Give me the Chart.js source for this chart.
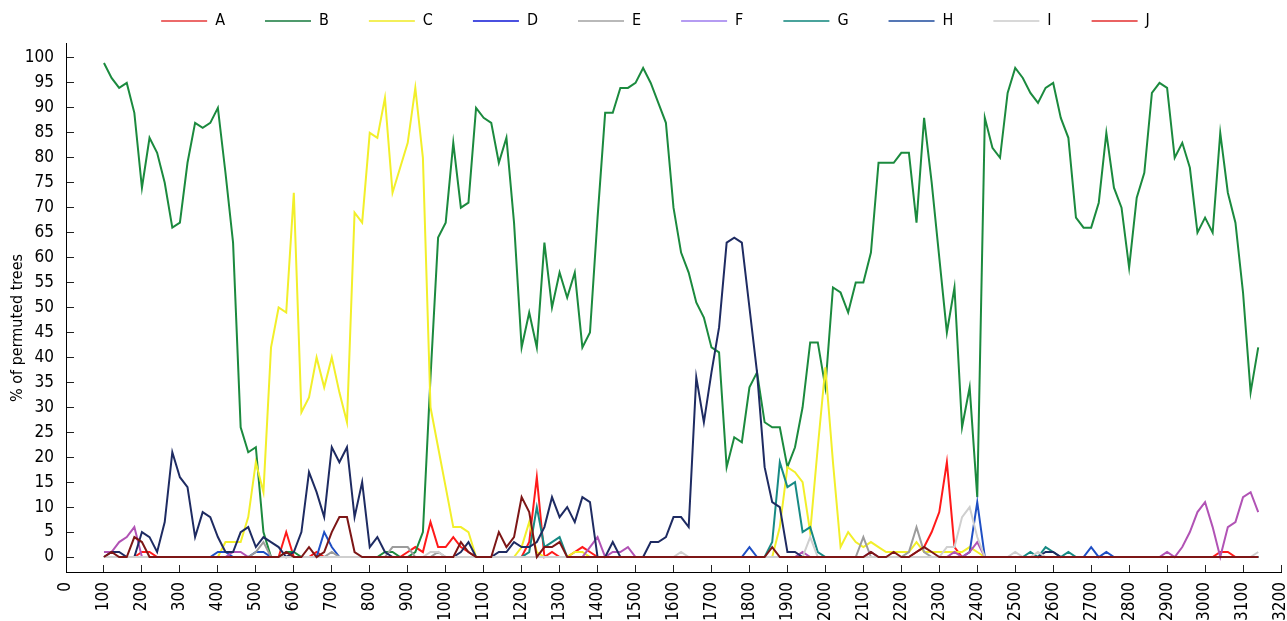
<!DOCTYPE html>
<html>
<head>
<meta charset="utf-8">
<script src="https://cdn.jsdelivr.net/npm/chart.js@4.4.1/dist/chart.umd.min.js"></script>
<style>
  html, body { margin: 0; padding: 0; background: #fff; }
  canvas { display: block; }
</style>
</head>
<body>
<canvas id="chart" width="1287" height="621"></canvas>
<script>
// sequence positions (x) of each window
const xs = [
  100,120,140,160,180,200,220,240,260,280,
  300,320,340,360,380,400,420,440,460,480,
  500,520,540,560,580,600,620,640,660,680,
  700,720,740,760,780,800,820,840,860,880,
  900,920,940,960,980,1000,1020,1040,1060,1080,
  1100,1120,1140,1160,1180,1200,1220,1240,1260,1280,
  1300,1320,1340,1360,1380,1400,1420,1440,1460,1480,
  1500,1520,1540,1560,1580,1600,1620,1640,1660,1680,
  1700,1720,1740,1760,1780,1800,1820,1840,1860,1880,
  1900,1920,1940,1960,1980,2000,2020,2040,2060,2080,
  2100,2120,2140,2160,2180,2200,2220,2240,2260,2280,
  2300,2320,2340,2360,2380,2400,2420,2440,2460,2480,
  2500,2520,2540,2560,2580,2600,2620,2640,2660,2680,
  2700,2720,2740,2760,2780,2800,2820,2840,2860,2880,
  2900,2920,2940,2960,2980,3000,3020,3040,3060,3080,
  3100,3120,3140
];

const seriesNames = ['A', 'B', 'C', 'D', 'E', 'F', 'G', 'H', 'I', 'J'];

const dataA = [
  0,0,0,0,0,1,1,0,0,0,  0,0,0,0,0,0,0,0,0,0,
  0,0,0,0,5,0,0,0,1,0,  0,0,0,0,0,0,0,0,0,0,
  1,2,1,7,2,2,4,2,1,0,  0,0,0,0,0,0,3,16,0,1,
  0,0,1,2,1,0,0,0,0,0,  0,0,0,0,0,0,0,0,0,0,
  0,0,0,0,0,0,0,0,0,0,  0,0,0,0,0,0,0,0,0,0,
  0,0,0,0,0,0,0,1,2,5,  9,19,2,0,0,0,0,0,0,0,
  0,0,0,0,0,0,0,0,0,0,  0,0,0,0,0,0,0,0,0,0,
  0,0,0,0,0,0,0,1,1,0,  0,0,0
];
const dataB = [
  99,96,94,95,89,74,84,81,75,66,  67,79,87,86,87,90,77,63,26,21,
  22,5,0,0,1,1,0,0,0,0,  0,0,0,0,0,0,0,1,1,0,
  0,1,5,36,64,67,83,70,71,90,  88,87,79,84,67,42,49,42,63,50,
  57,52,57,42,45,68,89,89,94,94,  95,98,95,91,87,70,61,57,51,48,
  42,41,18,24,23,34,37,27,26,26,  18,22,30,43,43,34,54,53,49,55,
  55,61,79,79,79,81,81,67,88,75,  60,45,54,26,34,12,88,82,80,93,
  98,96,93,91,94,95,88,84,68,66,  66,71,85,74,70,58,72,77,93,95,
  94,80,83,78,65,68,65,85,73,67,  53,33,42
];
const dataC = [
  0,0,0,0,0,0,0,0,0,0,  0,0,0,0,0,0,3,3,3,8,
  19,13,42,50,49,73,29,32,40,34,  40,33,27,69,67,85,84,92,73,78,
  83,94,80,30,22,14,6,6,5,0,  0,0,0,0,0,2,7,1,0,0,
  0,0,1,1,0,0,0,0,0,0,  0,0,0,0,0,0,0,0,0,0,
  0,0,0,0,0,0,0,0,0,6,  18,17,15,5,22,38,19,2,5,3,
  2,3,2,1,1,1,1,3,1,1,  1,1,1,1,2,1,0,0,0,0,
  0,0,0,0,0,0,0,0,0,0,  0,0,0,0,0,0,0,0,0,0,
  0,0,0,0,0,0,0,0,0,0,  0,0,0
];
const dataD = [
  0,0,0,0,0,0,0,0,0,0,  0,0,0,0,0,1,1,0,0,0,
  1,1,0,0,0,0,0,0,0,5,  2,0,0,0,0,0,0,0,0,0,
  0,0,0,0,0,0,0,0,0,0,  0,0,0,0,0,0,0,0,0,0,
  0,0,0,0,0,0,0,0,0,0,  0,0,0,0,0,0,0,0,0,0,
  0,0,0,0,0,2,0,0,0,0,  0,0,0,0,0,0,0,0,0,0,
  0,0,0,0,0,0,0,0,0,0,  0,0,0,0,1,11,0,0,0,0,
  0,0,0,0,0,0,0,0,0,0,  2,0,1,0,0,0,0,0,0,0,
  0,0,0,0,0,0,0,0,0,0,  0,0,0
];
const dataE = [
  0,0,0,0,0,0,0,0,0,0,  0,0,0,0,0,0,0,0,0,0,
  1,3,0,0,0,0,0,0,0,0,  1,0,0,0,0,0,0,0,2,2,
  2,0,0,0,1,0,0,0,0,0,  0,0,0,0,0,0,0,0,0,0,
  0,0,0,0,0,0,0,0,0,0,  0,0,0,0,0,0,0,0,0,0,
  0,0,0,0,0,0,0,0,0,0,  0,0,0,0,0,0,0,0,0,0,
  4,0,0,0,0,0,1,6,1,0,  0,0,0,0,0,0,0,0,0,0,
  0,0,0,0,0,0,0,0,0,0,  0,0,0,0,0,0,0,0,0,0,
  0,0,0,0,0,0,0,0,0,0,  0,0,0
];
const dataF = [
  1,1,3,4,6,0,0,0,0,0,  0,0,0,0,0,0,0,1,1,0,
  0,0,0,0,0,0,0,0,0,0,  0,0,0,0,0,0,0,0,0,0,
  0,0,0,0,0,0,0,0,0,0,  0,0,0,0,0,0,0,0,0,0,
  0,0,0,0,2,4,0,1,1,2,  0,0,0,0,0,0,0,0,0,0,
  0,0,0,0,0,0,0,0,0,0,  0,0,1,0,0,0,0,0,0,0,
  0,1,0,0,0,0,0,0,0,0,  0,0,1,0,1,3,0,0,0,0,
  0,0,0,0,0,0,0,0,0,0,  0,0,0,0,0,0,0,0,0,0,
  1,0,2,5,9,11,6,0,6,7,  12,13,9
];
const dataG = [
  0,0,0,0,0,0,0,0,0,0,  0,0,0,0,0,0,0,0,0,0,
  0,0,0,0,0,0,0,0,0,0,  0,0,0,0,0,0,0,0,0,0,
  0,0,0,0,0,0,0,0,0,0,  0,0,0,0,0,0,1,10,2,3,
  4,0,0,0,0,0,0,0,0,0,  0,0,0,0,0,0,0,0,0,0,
  0,0,0,0,0,0,0,0,3,19,  14,15,5,6,1,0,0,0,0,0,
  0,0,0,0,0,0,0,0,0,0,  0,0,0,0,0,0,0,0,0,0,
  0,0,1,0,2,1,0,1,0,0,  0,0,0,0,0,0,0,0,0,0,
  0,0,0,0,0,0,0,0,0,0,  0,0,0
];
const dataH = [
  0,1,1,0,0,5,4,1,7,21,  16,14,4,9,8,4,1,1,5,6,
  2,4,3,2,0,1,5,17,13,8,  22,19,22,8,15,2,4,1,0,0,
  0,0,0,0,0,0,0,1,3,0,  0,0,1,1,3,2,2,3,6,12,
  8,10,7,12,11,0,0,3,0,0,  0,0,3,3,4,8,8,6,36,27,
  37,46,63,64,63,50,37,18,11,10,  1,1,0,0,0,0,0,0,0,0,
  0,0,0,0,0,0,0,0,0,0,  0,0,0,0,0,0,0,0,0,0,
  0,0,0,0,1,1,0,0,0,0,  0,0,0,0,0,0,0,0,0,0,
  0,0,0,0,0,0,0,0,0,0,  0,0,0
];
const dataI = [
  0,0,0,0,0,0,0,0,0,0,  0,0,0,0,0,0,0,0,0,0,
  0,0,0,0,0,0,0,0,0,0,  0,0,0,0,0,0,0,0,0,0,
  0,0,0,1,1,0,0,0,0,0,  0,0,0,0,0,0,0,0,0,0,
  0,0,0,0,0,0,0,0,0,0,  0,0,0,0,0,0,1,0,0,0,
  0,0,0,0,0,0,0,0,0,0,  0,0,0,4,0,0,0,0,0,0,
  0,0,0,0,0,0,0,0,0,0,  0,2,2,8,10,4,0,0,0,0,
  1,0,0,1,0,0,0,0,0,0,  0,0,0,0,0,0,0,0,0,0,
  0,0,0,0,0,0,0,0,0,0,  0,0,1
];
const dataJ = [
  0,1,0,0,4,3,0,0,0,0,  0,0,0,0,0,0,0,0,0,0,
  0,0,0,0,1,0,0,2,0,1,  5,8,8,1,0,0,0,0,0,0,
  0,0,0,0,0,0,0,3,1,0,  0,0,5,2,4,12,9,0,2,2,
  3,0,0,0,0,0,0,0,0,0,  0,0,0,0,0,0,0,0,0,0,
  0,0,0,0,0,0,0,0,2,0,  0,0,0,0,0,0,0,0,0,0,
  0,1,0,0,1,0,0,1,2,1,  0,0,0,0,0,0,0,0,0,0,
  0,0,0,0,0,0,0,0,0,0,  0,0,0,0,0,0,0,0,0,0,
  0,0,0,0,0,0,0,0,0,0,  0,0,0
];

const xTicks = [0,100,200,300,400,500,600,700,800,900,1000,1100,1200,1300,1400,1500,
  1600,1700,1800,1900,2000,2100,2200,2300,2400,2500,2600,2700,2800,2900,3000,3100,3200];
const yTicks = [0,5,10,15,20,25,30,35,40,45,50,55,60,65,70,75,80,85,90,95,100];
const yTitle = '% of permuted trees';

const allSeries = [dataA, dataB, dataC, dataD, dataE, dataF, dataG, dataH, dataI, dataJ];
const lineColors = ['#ff1a1a', '#1b8a3e', '#f2ef2a', '#1f4fc4', '#9c9c9c',
  '#b153b5', '#178a84', '#1e2b62', '#cfcfcf', '#7d1616'];
const legendColors = ['#ec6a6a', '#4f9a6c', '#f3ef5a', '#4a50e0', '#b9b9b9',
  '#b59cf2', '#4aa39c', '#5577b5', '#d8d8d8', '#ea6262'];

const FONT = "'DejaVu Sans Condensed', 'DejaVu Sans', sans-serif";

// legend needs a bit more room under it than chart.js gives
const legendSpacer = {
  id: 'legendSpacer',
  beforeLayout(chart) {
    const lg = chart.legend;
    if (lg && !lg._spaced) {
      const fit = lg.fit;
      lg.fit = function () { fit.call(this); this.height += 4; };
      lg._spaced = true;
    }
  }
};

// y title sits a little below the axis centre in the original
const yTitlePlugin = {
  id: 'yTitle',
  afterDraw(chart) {
    const ctx = chart.ctx;
    ctx.save();
    ctx.translate(18, 328);
    ctx.rotate(-Math.PI / 2);
    ctx.font = '16px ' + FONT;
    ctx.fillStyle = '#000';
    ctx.textAlign = 'center';
    ctx.textBaseline = 'middle';
    ctx.fillText(yTitle, 0, 0);
    ctx.restore();
  }
};

const datasets = allSeries.map((vals, k) => ({
  label: seriesNames[k],
  data: xs.map((x, n) => ({ x: x, y: vals[n] })),
  borderColor: lineColors[k],
  backgroundColor: lineColors[k],
  borderWidth: 2,
  pointRadius: 0,
  tension: 0,
  fill: false,
  order: seriesNames.length - 1 - k
}));

new Chart(document.getElementById('chart').getContext('2d'), {
  type: 'line',
  data: { datasets: datasets },
  plugins: [legendSpacer, yTitlePlugin],
  options: {
    responsive: false,
    animation: false,
    devicePixelRatio: 1,
    layout: { padding: { top: -27, left: 24, right: 0, bottom: 0 } },
    plugins: {
      tooltip: { enabled: false },
      legend: {
        position: 'top',
        labels: {
          color: '#000',
          font: { family: FONT, size: 16 },
          boxWidth: 46,
          boxHeight: 2,
          padding: 40,
          generateLabels: (chart) => chart.data.datasets.map((ds, k) => ({
            text: ds.label,
            fillStyle: legendColors[k],
            strokeStyle: legendColors[k],
            lineWidth: 0,
            hidden: false,
            datasetIndex: k
          }))
        }
      }
    },
    scales: {
      x: {
        type: 'linear',
        min: 0,
        max: 3200,
        afterBuildTicks: (s) => { s.ticks = xTicks.map(v => ({ value: v })); },
        afterFit: (s) => { s.height = 49; s.paddingLeft = 0; s.paddingRight = 6; },
        ticks: {
          autoSkip: false,
          minRotation: 90,
          maxRotation: 90,
          padding: 17,
          color: '#000',
          font: { family: FONT, size: 17 },
          callback: (v) => String(v)
        },
        grid: { drawOnChartArea: false, drawTicks: true, tickLength: -7, tickColor: '#222' },
        border: { display: true, color: '#000', width: 1 }
      },
      y: {
        type: 'linear',
        min: -3,
        max: 103,
        afterBuildTicks: (s) => { s.ticks = yTicks.map(v => ({ value: v })); },
        afterFit: (s) => { s.width = 42; },
        ticks: {
          autoSkip: false,
          padding: 20,
          color: '#000',
          font: { family: FONT, size: 17 },
          callback: (v) => String(v)
        },
        grid: { drawOnChartArea: false, drawTicks: true, tickLength: -8, tickColor: '#222' },
        border: { display: true, color: '#000', width: 1 }
      }
    }
  }
});
</script>
</body>
</html>
